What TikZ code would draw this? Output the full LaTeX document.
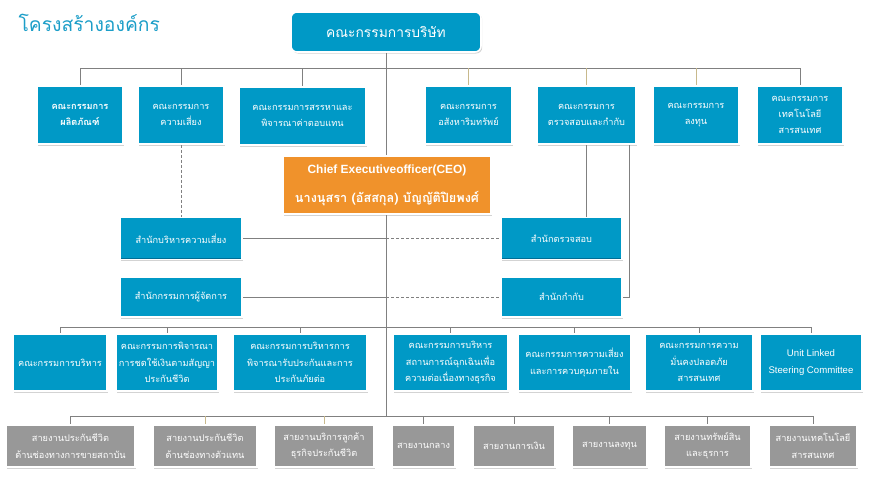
\documentclass[tikz,border=0pt]{standalone}
\usepackage{fontspec}
\setmainfont{Loma}[Script=Thai]
\newfontfamily\latinfont{Liberation Sans}
\usetikzlibrary{shadows}
\pgfdeclarelayer{background}
\pgfsetlayers{background,main}
\definecolor{tealbox}{RGB}{0,153,198}
\definecolor{tealdark}{RGB}{0,110,150}
\definecolor{titleteal}{RGB}{28,158,200}
\definecolor{orangebox}{RGB}{240,146,43}
\definecolor{orangedark}{RGB}{200,110,30}
\definecolor{graybox}{RGB}{152,152,152}
\definecolor{graydark}{RGB}{115,115,115}
\definecolor{linegray}{RGB}{128,128,128}
\definecolor{linebeige}{RGB}{200,185,140}
\tikzset{
  boxbase/.style={draw=white, line width=1.2pt, text=white, align=center, inner sep=1pt,
    font=\fontsize{9.2}{16.3}\selectfont,
    drop shadow={shadow xshift=1.2pt, shadow yshift=-1.5pt, opacity=0.35}},
  tbox/.style={boxbase, fill=tealbox,
    path picture={\draw[tealdark, line width=2.5pt] (path picture bounding box.south west) -- (path picture bounding box.south east);}},
  gbox/.style={boxbase, fill=graybox,
    path picture={\draw[graydark, line width=2pt] (path picture bounding box.south west) rectangle (path picture bounding box.north east);}},
  obox/.style={boxbase, fill=orangebox, font=\bfseries\fontsize{12.7}{29}\selectfont,
    path picture={\draw[orangedark, line width=2.5pt] (path picture bounding box.south west) -- (path picture bounding box.south east);}},
  conn/.style={draw=linegray, line width=0.8pt},
  connb/.style={draw=linebeige, line width=0.8pt},
  dconn/.style={draw=linegray, line width=0.8pt, dash pattern=on 3pt off 2pt},
}
\begin{document}
\begin{tikzpicture}[x=1pt,y=-1pt]
\useasboundingbox (0,0) rectangle (879,480);
\node[text=titleteal, font=\fontsize{19.3}{22}\selectfont, anchor=west] (title) at (15,23) {โครงสร้างองค์กร};

\node[tbox, rounded corners=6pt, line width=1.6pt, minimum width=190, minimum height=40,
  font=\fontsize{13.8}{16}\selectfont] (top) at (386,32) {คณะกรรมการบริษัท};

% row 2
\node[tbox, minimum width=86, minimum height=58, font=\bfseries\fontsize{9.2}{16.3}\selectfont] (b1) at (80,115) {คณะกรรมการ\\ผลิตภัณฑ์};
\node[tbox, minimum width=86, minimum height=58] (b2) at (181,115) {คณะกรรมการ\\ความเสี่ยง};
\node[tbox, minimum width=127, minimum height=58] (b3) at (302.5,116) {คณะกรรมการสรรหาและ\\พิจารณาค่าตอบแทน};
\node[tbox, minimum width=87, minimum height=58] (b4) at (468.5,115) {คณะกรรมการ\\อสังหาริมทรัพย์};
\node[tbox, minimum width=99, minimum height=58] (b5) at (586.5,115) {คณะกรรมการ\\ตรวจสอบและกำกับ};
\node[tbox, minimum width=86, minimum height=58] (b6) at (696,115) {คณะกรรมการ\\ลงทุน};
\node[tbox, minimum width=86, minimum height=58] (b7) at (800,115) {คณะกรรมการ\\เทคโนโลยี\\สารสนเทศ};

% CEO
\node[obox, minimum width=208, minimum height=58] (ceo) at (387,185) {{\latinfont\fontsize{11.9}{29}\selectfont Chief Executiveofficer(CEO)}\\นางนุสรา (อัสสกุล) บัญญัติปิยพงศ์};

% offices
\node[tbox, minimum width=122, minimum height=42] (ro) at (181,238.5) {สำนักบริหารความเสี่ยง};
\node[tbox, minimum width=122, minimum height=40] (mo) at (181,297) {สำนักกรรมการผู้จัดการ};
\node[tbox, minimum width=121, minimum height=42] (au) at (561.5,238.5) {สำนักตรวจสอบ};
\node[tbox, minimum width=121, minimum height=40] (gov) at (561.5,297) {สำนักกำกับ};

% row 3
\node[tbox, minimum width=94, minimum height=57] (c1) at (60,362.5) {คณะกรรมการบริหาร};
\node[tbox, minimum width=102, minimum height=57] (c2) at (167,362.5) {คณะกรรมการพิจารณา\\การชดใช้เงินตามสัญญา\\ประกันชีวิต};
\node[tbox, minimum width=134, minimum height=57] (c3) at (300,362.5) {คณะกรรมการบริหารการ\\พิจารณารับประกันและการ\\ประกันภัยต่อ};
\node[tbox, minimum width=115, minimum height=57] (c4) at (450.5,362.5) {คณะกรรมการบริหาร\\สถานการณ์ฉุกเฉินเพื่อ\\ความต่อเนื่องทางธุรกิจ};
\node[tbox, minimum width=113, minimum height=57] (c5) at (574.5,362.5) {คณะกรรมการความเสี่ยง\\และการควบคุมภายใน};
\node[tbox, minimum width=108, minimum height=57] (c6) at (699,362.5) {คณะกรรมการความ\\มั่นคงปลอดภัย\\สารสนเทศ};
\node[tbox, minimum width=102, minimum height=57, font=\latinfont\fontsize{9.6}{16.7}\selectfont] (c7) at (811,362.5) {Unit Linked\\Steering Committee};

% row 4
\node[gbox, minimum width=129, minimum height=42] (d1) at (70.5,446) {สายงานประกันชีวิต\\ด้านช่องทางการขายสถาบัน};
\node[gbox, minimum width=104, minimum height=42] (d2) at (205,446) {สายงานประกันชีวิต\\ด้านช่องทางตัวแทน};
\node[gbox, minimum width=100, minimum height=42] (d3) at (324,446) {สายงานบริการลูกค้า\\ธุรกิจประกันชีวิต};
\node[gbox, minimum width=63, minimum height=42] (d4) at (423.5,446) {สายงานกลาง};
\node[gbox, minimum width=82, minimum height=42] (d5) at (514,446) {สายงานการเงิน};
\node[gbox, minimum width=75, minimum height=42] (d6) at (609.5,446) {สายงานลงทุน};
\node[gbox, minimum width=87, minimum height=42] (d7) at (707.5,446) {สายงานทรัพย์สิน\\และธุรการ};
\node[gbox, minimum width=88, minimum height=42] (d8) at (813,446) {สายงานเทคโนโลยี\\สารสนเทศ};

% connectors
\coordinate (busA) at (386,68);
\coordinate (busB) at (386,327);
\coordinate (busC) at (386,416);
\coordinate (jr) at (386,238.5);
\coordinate (jm) at (386,297);
\begin{pgfonlayer}{background}
\draw[conn] (top.south) -- (busC);
\draw[conn] (b1.north |- busA) -- (b7.north |- busA);
\foreach \n in {b1,b2,b3,b7} \draw[conn] (\n.north) -- (\n.north |- busA);
\foreach \n in {b4,b5,b6} \draw[connb] (\n.north) -- (\n.north |- busA);
\draw[dconn] (b2.south) -- (ro.north);
\draw[conn] (ro.east) -- (jr);
\draw[dconn] (jr) -- (au.west);
\draw[conn] (mo.east) -- (jm);
\draw[dconn] (jm) -- (gov.west);
\draw[conn] (b5.south) -- (b5.south |- au.north);
\draw[conn] ([xshift=-7pt]b5.south east) |- (gov.east);
\draw[conn] (c1.north |- busB) -- (c7.north |- busB);
\foreach \n in {c1,c2,c3,c4,c5,c6,c7} \draw[conn] (\n.north) -- (\n.north |- busB);
\draw[conn] (d1.north |- busC) -- (d8.north |- busC);
\foreach \n in {d1,d4,d5,d6,d7,d8} \draw[conn] (\n.north) -- (\n.north |- busC);
\foreach \n in {d2,d3} \draw[connb] (\n.north) -- (\n.north |- busC);
\end{pgfonlayer}
\end{tikzpicture}
\end{document}
